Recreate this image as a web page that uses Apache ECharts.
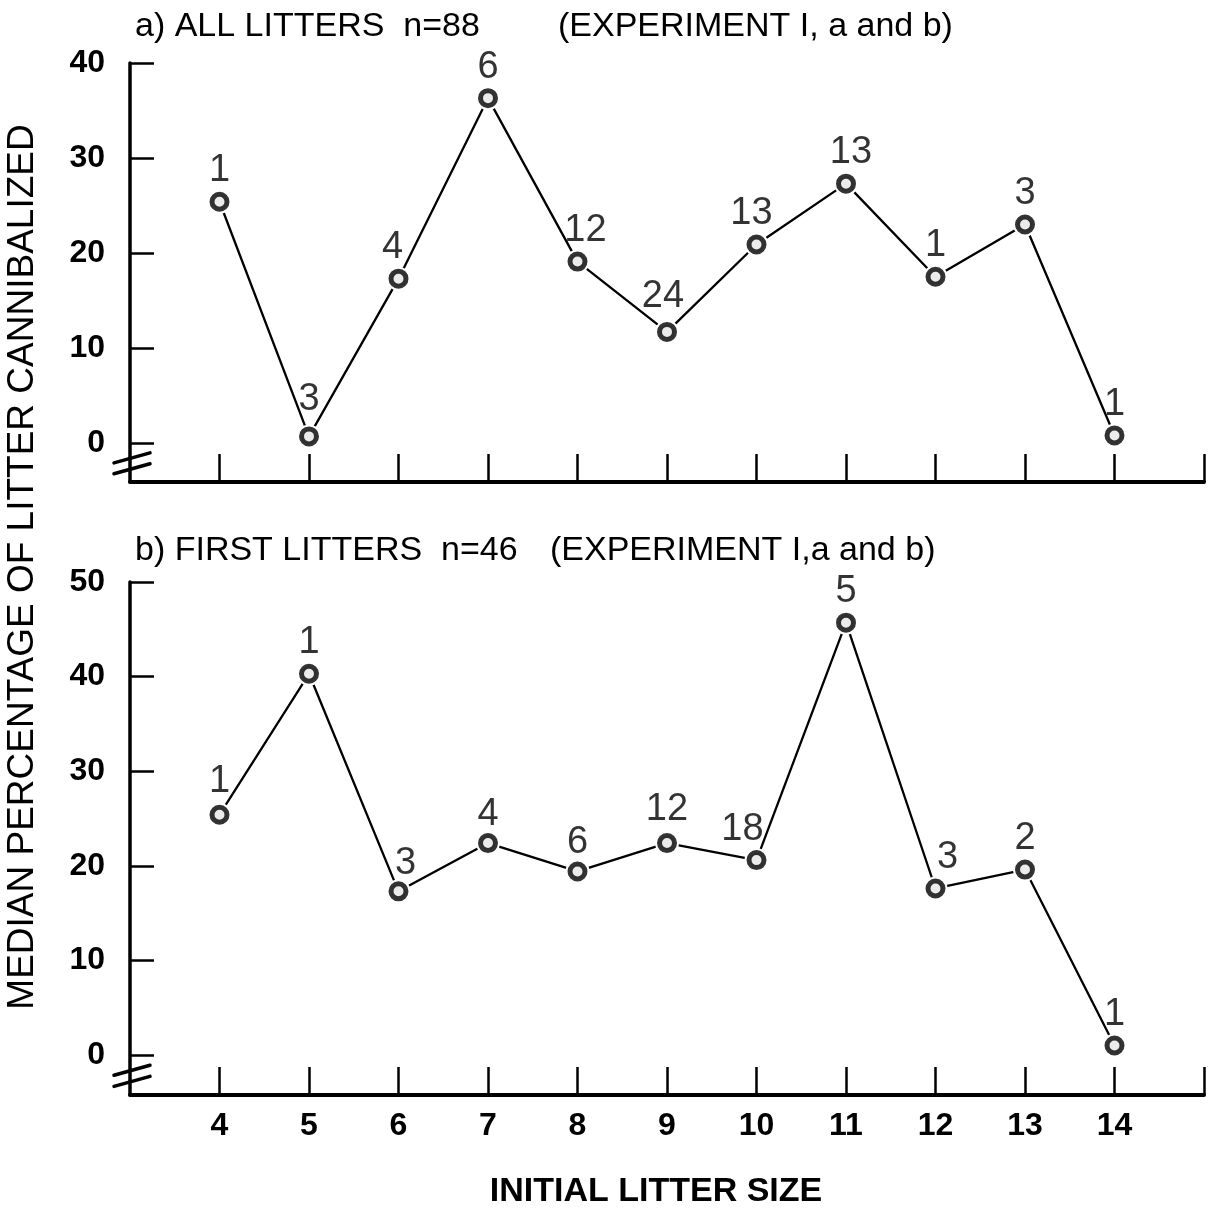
<!DOCTYPE html>
<html><head><meta charset="utf-8">
<script src="https://cdn.jsdelivr.net/npm/echarts@6/dist/echarts.min.js"></script>
<style>html,body{margin:0;padding:0;background:#fff}#c{width:1214px;height:1211px}</style>
</head><body><div id="c"></div>
<script>
// ---- data ----
const litterSizes = [4, 5, 6, 7, 8, 9, 10, 11, 12, 13, 14];
const allLittersMedian = [25.4, 0.7, 17.3, 36.3, 19.1, 11.7, 20.9, 27.3, 17.5, 23.0, 0.8];
const allLittersN = [1, 3, 4, 6, 12, 24, 13, 13, 1, 3, 1];
const firstLittersMedian = [25.4, 40.3, 17.3, 22.4, 19.4, 22.4, 20.6, 45.7, 17.6, 19.6, 1.0];
const firstLittersN = [1, 1, 3, 4, 6, 12, 18, 5, 3, 2, 1];
const yTicksA = [0, 10, 20, 30, 40];
const yTicksB = [0, 10, 20, 30, 40, 50];
const xTickLabels = [4, 5, 6, 7, 8, 9, 10, 11, 12, 13, 14];
const xTickMarks = [4, 5, 6, 7, 8, 9, 10, 11, 12, 13, 14, 15];

// ---- label nudges (style only) ----
const nudgeA = [[0,0],[0,-6],[-6,0],[0,0],[8,0],[-4,-4],[-5,0],[5,0],[0,0],[0,0],[0,0]];
const nudgeB = [[0,-2],[0,0],[7,3],[0,2],[0,2],[0,-3],[-14,0],[0,0],[12,0],[0,0],[0,0]];

const FONT = "'Liberation Sans', Arial, Helvetica, sans-serif";

function pairs(ys) { return litterSizes.map((x, i) => [x, ys[i]]); }
function labelled(ys, ns, nudge) {
  return litterSizes.map((x, i) => ({
    value: [x, ys[i]],
    label: { formatter: String(ns[i]), offset: nudge[i] }
  }));
}

const chart = echarts.init(document.getElementById('c'), null, { renderer: 'canvas' });

function xAxisCfg(grid, showLabels) {
  return {
    type: 'value', gridIndex: grid, min: 3, max: 15,
    axisLine: { show: true, onZero: false, lineStyle: { color: '#000', width: 4 } },
    axisTick: { show: true, inside: true, length: 28, customValues: xTickMarks,
      lineStyle: { color: '#000', width: 2.5 } },
    axisLabel: { show: showLabels, customValues: xTickLabels, margin: 15,
      color: '#000', fontSize: 32, fontWeight: 'bold', fontFamily: FONT },
    splitLine: { show: false }
  };
}
function yAxisCfg(grid, min, max, ticks) {
  return {
    type: 'value', gridIndex: grid, min: min, max: max,
    axisLine: { show: true, onZero: false, lineStyle: { color: '#000', width: 3.5 } },
    axisTick: { show: true, inside: true, length: 24, customValues: ticks,
      lineStyle: { color: '#000', width: 2.5 } },
    axisLabel: { show: true, customValues: ticks, margin: 25,
      color: '#000', fontSize: 32, fontWeight: 'bold', fontFamily: FONT },
    splitLine: { show: false }
  };
}
function lineSeries(grid, ys) {
  return {
    type: 'line', xAxisIndex: grid, yAxisIndex: grid, data: pairs(ys),
    symbol: 'circle', symbolSize: 24, showSymbol: true,
    itemStyle: { color: '#fff', borderWidth: 0 },
    lineStyle: { color: '#000', width: 2.3 },
    emphasis: { disabled: true }, silent: true, animation: false, z: 2
  };
}
function pointSeries(grid, ys, ns, nudge) {
  return {
    type: 'scatter', xAxisIndex: grid, yAxisIndex: grid, data: labelled(ys, ns, nudge),
    symbol: 'circle', symbolSize: 15,
    itemStyle: { color: '#e6e6e6', borderColor: '#000', borderWidth: 5 },
    label: { show: true, position: 'top', distance: 2, color: '#000',
      fontSize: 38, fontWeight: 'normal', fontFamily: FONT },
    emphasis: { disabled: true }, silent: true, animation: false, z: 3
  };
}

const titleStyle = { fontSize: 34, fontWeight: 'normal', color: '#000', fontFamily: FONT };
const option = {
  backgroundColor: '#fff',
  animation: false,
  title: [
    { text: 'a) ALL LITTERS  n=88', left: 130, top: 5, textStyle: titleStyle },
    { text: '(EXPERIMENT I, a and b)', left: 553, top: 5, textStyle: titleStyle },
    { text: 'b) FIRST LITTERS  n=46', left: 130, top: 529, textStyle: titleStyle },
    { text: '(EXPERIMENT I,a and b)', left: 545, top: 529, textStyle: titleStyle }
  ],
  grid: [
    { left: 130, right: 10, top: 63, height: 419 },
    { left: 130, right: 10, top: 582, height: 513 }
  ],
  xAxis: [xAxisCfg(0, false), xAxisCfg(1, true)],
  yAxis: [yAxisCfg(0, -4.1, 40, yTicksA), yAxisCfg(1, -4.23, 50, yTicksB)],
  series: [
    lineSeries(0, allLittersMedian),
    pointSeries(0, allLittersMedian, allLittersN, nudgeA),
    lineSeries(1, firstLittersMedian),
    pointSeries(1, firstLittersMedian, firstLittersN, nudgeB)
  ]
};
chart.setOption(option);

// decorations: axis names and axis-break marks placed from the axes themselves
const gfx = [];
function breakMarks(grid, yMin) {
  const p0 = chart.convertToPixel({ gridIndex: grid }, [3, 0]);
  const pm = chart.convertToPixel({ gridIndex: grid }, [3, yMin]);
  [0.38, 0.66].forEach(f => {
    const y = p0[1] + (pm[1] - p0[1]) * f;
    gfx.push({ type: 'line', shape: { x1: p0[0] - 16, y1: y + 5, x2: p0[0] + 20, y2: y - 5 },
      style: { stroke: '#000', lineWidth: 3.5, lineCap: 'round' }, z: 10 });
  });
}
breakMarks(0, -4.1);
breakMarks(1, -4.23);
gfx.push({ type: 'text', x: 23, y: 567, rotation: Math.PI / 2,
  style: { text: 'MEDIAN PERCENTAGE OF LITTER CANNIBALIZED', fill: '#000',
    font: 'normal 37px ' + FONT, textAlign: 'center', textVerticalAlign: 'middle' } });
gfx.push({ type: 'text', x: 656, y: 1192,
  style: { text: 'INITIAL LITTER SIZE', fill: '#000',
    font: 'bold 34px ' + FONT, textAlign: 'center', textVerticalAlign: 'middle' } });
chart.setOption({ graphic: gfx });
</script>
</body></html>
